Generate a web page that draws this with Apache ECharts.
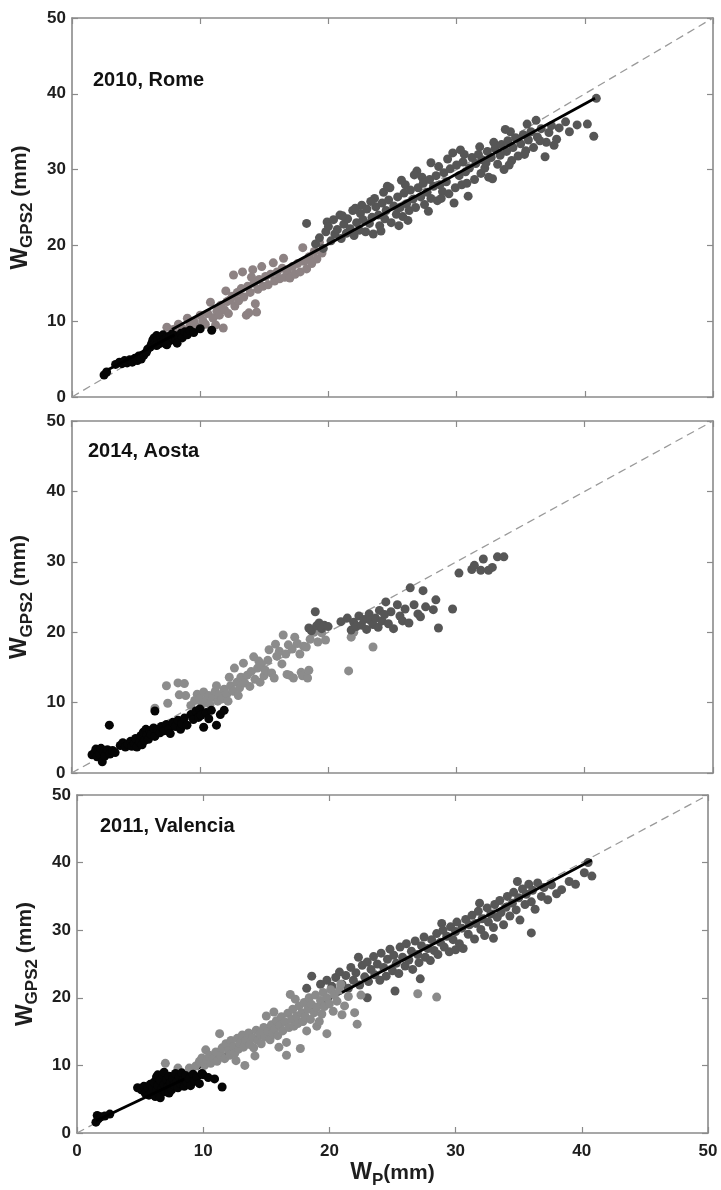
<!DOCTYPE html>
<html>
<head>
<meta charset="utf-8">
<script src="https://cdn.jsdelivr.net/npm/echarts@6/dist/echarts.min.js"></script>
<style>
  html, body { margin: 0; padding: 0; background: #fff; }
  #chart { width: 721px; height: 1190px; }
</style>
</head>
<body>
<div id="chart"></div>
<script>
// Precipitable water: GPS estimate (W_GPS2) against reference (W_P), three campaigns.

const axisTicks = [0, 10, 20, 30, 40, 50];
const identity = [[0, 0], [50, 50]];

const panelLabels = ['2010, Rome', '2014, Aosta', '2011, Valencia'];

// ---- 2010, Rome ----
const romeBlack = [
  [2.5,2.9],[2.7,3.3],[3.4,4.3],[3.7,4.6],[3.9,4.4],[4.1,4.8],[4.3,4.5],[4.5,4.9],[4.7,4.6],[4.9,5.1],
  [5.1,4.8],[5.2,5.4],[5.4,5.0],[5.6,5.5],[5.8,5.9],[5.9,6.3],[6.1,6.6],[6.2,7.0],[6.3,7.5],[6.4,7.8],
  [6.5,7.2],[6.6,8.1],[6.7,7.6],[6.8,7.0],[6.9,7.9],[7.0,7.3],[7.1,8.2],[7.2,7.6],[7.3,7.0],[7.4,7.9],
  [7.5,7.3],[7.6,8.0],[7.7,7.5],[7.8,8.3],[7.9,7.7],[8.0,8.1],[8.1,7.4],[8.3,7.9],[8.5,8.4],[8.6,7.8],
  [8.8,8.6],[9.0,8.2],[9.2,8.8],[9.5,8.5],[10.0,9.0],[10.9,8.8],[6.6,6.8],[7.4,6.9],[8.2,7.1]
];
const romeMid = [
  [7.4,9.2],[7.9,8.9],[8.3,9.6],[8.6,9.0],[9.0,10.4],[9.2,9.4],[9.5,10.0],[9.8,9.2],[10.0,10.8],[10.2,10.1],
  [10.4,9.6],[10.6,11.0],[10.8,12.5],[11.0,10.4],[11.2,9.5],[11.3,11.3],[11.5,10.8],[11.6,12.1],[11.8,9.1],[11.9,11.5],
  [12.1,12.6],[12.2,11.0],[12.3,12.8],[12.5,13.3],[12.6,16.1],[12.7,12.0],[12.9,13.8],[13.0,12.7],[13.2,14.3],[13.3,16.5],
  [13.4,13.2],[13.6,10.8],[13.7,14.6],[13.8,11.1],[13.9,13.8],[14.1,16.8],[14.2,15.0],[14.3,12.3],[14.4,11.2],[14.5,14.2],
  [14.6,15.5],[14.8,17.2],[14.9,14.6],[15.1,15.9],[15.3,14.8],[15.5,16.2],[15.7,17.7],[15.8,15.3],[16.0,16.5],[16.2,15.6],
  [16.4,17.0],[16.6,15.8],[16.8,16.6],[17.0,15.7],[17.2,17.2],[17.4,16.2],[17.6,17.6],[17.8,16.5],[18.0,19.7],[18.1,17.9],
  [18.3,16.9],[18.5,18.5],[18.7,17.6],[18.9,19.2],[19.1,18.2],[19.3,20.4],[19.5,19.0],[12.0,14.0],[14.0,15.8],[16.5,18.3]
];
const romeDark = [
  [18.3,22.9],[19.0,20.2],[19.3,21.0],[19.6,19.6],[19.8,21.8],[19.9,23.1],[20.0,22.5],[20.2,20.6],[20.4,23.4],[20.5,21.5],
  [20.7,22.1],[20.9,24.0],[21.0,20.9],[21.2,22.8],[21.4,21.6],[21.5,23.5],[21.7,22.2],[21.9,24.6],[22.0,21.3],[22.2,23.0],
  [22.4,22.0],[22.5,24.2],[22.6,25.3],[22.7,23.4],[22.9,21.8],[23.0,24.8],[23.2,22.9],[23.4,23.7],[23.5,21.5],[23.6,26.2],
  [23.7,25.1],[23.9,24.0],[24.0,22.6],[24.2,25.6],[24.3,27.0],[24.4,23.5],[24.5,24.6],[24.7,26.0],[24.8,27.6],[24.9,23.0],
  [25.1,25.2],[25.3,24.1],[25.4,26.4],[25.5,22.6],[25.6,25.0],[25.8,23.8],[25.9,26.9],[26.0,28.0],[26.1,25.5],[26.3,24.6],
  [26.4,27.3],[26.6,26.1],[26.8,25.0],[26.9,29.8],[27.0,27.6],[27.2,26.4],[27.3,29.0],[27.4,28.2],[27.5,25.4],[27.7,27.0],
  [27.8,24.5],[27.9,28.7],[28.0,26.2],[28.2,27.8],[28.4,29.2],[28.5,25.9],[28.6,30.4],[28.7,28.0],[28.9,27.1],[29.0,29.6],
  [29.2,28.4],[29.4,26.8],[29.5,30.1],[29.7,32.2],[29.8,25.6],[29.9,27.6],[30.0,30.6],[30.2,29.2],[30.4,28.0],[30.5,31.0],
  [30.6,32.0],[30.7,29.7],[30.9,26.5],[31.0,30.2],[31.2,31.6],[31.4,28.7],[31.5,30.8],[31.7,32.0],[31.8,33.0],[31.9,29.5],
  [32.0,31.3],[32.2,30.2],[32.4,32.4],[32.5,29.0],[32.7,31.6],[32.8,28.8],[32.9,33.6],[33.0,32.8],[33.2,30.7],[33.4,31.9],
  [33.5,33.3],[33.7,30.0],[33.9,32.4],[34.0,33.8],[34.2,35.0],[34.3,31.2],[34.4,32.9],[34.6,34.2],[34.8,31.8],[35.0,33.4],
  [35.2,34.6],[35.4,32.5],[35.5,36.0],[35.6,33.9],[35.8,35.0],[36.0,32.9],[36.2,36.5],[36.3,34.3],[36.6,35.4],[36.9,31.7],
  [37.0,33.6],[37.2,34.9],[37.4,35.8],[37.8,34.0],[38.0,35.5],[38.5,36.3],[38.8,35.0],[39.4,35.9],[40.2,36.0],[40.7,34.4],
  [40.9,39.4],[21.1,23.9],[22.1,24.9],[23.3,25.8],[24.6,27.8],[25.7,28.6],[26.7,29.3],[28.0,30.9],[29.3,31.4],[30.3,32.6],
  [24.1,21.9],[26.2,23.3],[28.8,26.2],[30.8,28.2],[32.3,30.9],[34.1,30.6],[35.3,32.0],[36.5,33.8],[37.6,33.2],[33.8,35.3]
];
const romeFitLow = [[2.8,3.6],[8.0,8.2]];
const romeFitHigh = [[7.8,8.9],[40.8,39.4]];

// ---- 2014, Aosta ----
const aostaBlack = [
  [1.6,2.6],[1.8,2.9],[1.9,3.4],[2.0,2.3],[2.1,3.1],[2.2,2.7],[2.3,3.5],[2.4,1.6],[2.5,3.0],[2.6,2.4],
  [2.8,3.3],[2.95,6.8],[3.0,2.7],[3.2,3.2],[3.4,2.9],[3.8,3.9],[4.0,4.3],[4.2,3.7],[4.4,4.1],[4.6,4.5],
  [4.7,3.8],[4.9,4.2],[5.0,4.9],[5.1,3.7],[5.3,4.4],[5.4,5.3],[5.5,4.0],[5.6,5.8],[5.7,4.6],[5.8,6.2],
  [5.9,5.4],[6.0,4.8],[6.1,6.0],[6.2,5.5],[6.4,6.4],[6.5,5.2],[6.5,8.8],[6.7,6.1],[6.9,5.7],[7.0,6.6],
  [7.2,6.0],[7.4,6.9],[7.6,6.3],[7.7,5.6],[7.9,7.2],[8.1,6.6],[8.3,7.5],[8.5,6.2],[8.6,7.0],[8.8,7.8],
  [9.0,6.8],[9.3,8.3],[9.5,7.6],[9.7,8.8],[9.9,7.9],[10.0,9.1],[10.1,8.2],[10.3,6.5],[10.5,8.6],[10.7,7.7],
  [10.9,8.9],[11.3,6.8],[11.6,8.3],[11.9,8.9]
];
const aostaGray = [
  [6.5,9.2],[7.4,12.4],[7.5,9.9],[8.3,12.8],[8.4,11.1],[8.8,12.7],[8.9,11.0],[9.3,9.6],[9.6,10.3],[9.8,11.2],
  [10.0,10.6],[10.2,9.8],[10.3,11.5],[10.5,10.4],[10.7,11.0],[10.8,9.7],[11.0,10.8],[11.2,11.6],[11.3,12.4],[11.4,10.2],
  [11.5,11.1],[11.7,10.5],[11.9,11.9],[12.1,11.2],[12.2,10.2],[12.3,13.6],[12.4,12.4],[12.6,11.6],[12.7,14.9],[12.9,12.9],
  [13.0,11.0],[13.1,12.1],[13.2,13.6],[13.4,15.6],[13.5,12.8],[13.7,13.9],[13.9,12.3],[14.0,14.4],[14.2,16.5],[14.3,13.3],
  [14.5,14.9],[14.6,15.9],[14.7,12.9],[14.8,15.4],[15.0,13.8],[15.1,14.6],[15.3,16.0],[15.4,17.5],[15.6,14.2],[15.8,13.5],
  [15.9,18.3],[16.0,16.6],[16.2,17.3],[16.4,15.5],[16.5,19.6],[16.7,16.9],[16.8,14.0],[16.9,18.2],[17.0,13.9],[17.2,17.6],
  [17.3,13.5],[17.4,19.3],[17.6,18.4],[17.8,16.9],[17.9,14.3],[18.0,13.8],[18.1,18.0],[18.3,17.9],[18.4,13.5],[18.5,14.6],
  [18.6,19.0],[18.9,20.0],[19.2,18.6],[19.5,19.9],[19.8,18.9],[21.6,14.5],[21.8,19.3],[22.0,20.0],[23.5,17.9]
];
const aostaDark = [
  [18.5,20.6],[18.7,20.2],[19.0,22.9],[19.1,20.9],[19.3,21.3],[19.5,20.5],[19.7,21.0],[20.0,20.8],[21.0,21.5],[21.5,22.0],
  [21.8,20.3],[22.0,21.4],[22.2,20.8],[22.4,22.3],[22.6,21.0],[22.8,21.8],[23.0,20.4],[23.2,22.6],[23.3,21.7],[23.5,21.1],
  [23.7,22.0],[23.9,20.7],[24.0,23.1],[24.2,21.6],[24.4,22.5],[24.5,24.3],[24.7,21.2],[24.9,22.9],[25.1,20.5],[25.4,23.9],
  [25.6,22.3],[25.8,21.6],[26.0,23.3],[26.3,21.3],[26.4,26.3],[26.7,23.9],[27.0,22.6],[27.2,22.2],[27.4,25.9],[27.6,23.6],
  [28.2,23.2],[28.4,24.6],[28.6,20.6],[29.7,23.3],[30.2,28.4],[31.2,28.9],[31.4,29.5],[31.9,28.8],[32.1,30.4],[32.5,28.8],
  [32.8,29.2],[33.2,30.7],[33.7,30.7]
];

// ---- 2011, Valencia ----
const valBlack = [
  [1.5,1.6],[1.6,2.6],[1.7,2.1],[1.9,2.4],[2.2,2.5],[2.6,2.8],[4.8,6.7],[5.1,6.4],[5.3,6.9],[5.4,5.9],
  [5.5,6.2],[5.6,6.8],[5.7,5.6],[5.8,7.2],[5.9,6.0],[6.0,6.6],[6.1,7.5],[6.2,5.4],[6.3,8.3],[6.3,6.3],
  [6.4,7.0],[6.4,8.6],[6.5,5.8],[6.6,7.8],[6.6,5.2],[6.7,6.5],[6.8,8.6],[6.9,7.2],[6.9,9.0],[7.0,6.1],
  [7.1,7.9],[7.2,6.8],[7.3,8.4],[7.3,5.9],[7.4,7.4],[7.5,6.4],[7.6,8.0],[7.7,7.1],[7.8,8.8],[7.9,7.6],
  [8.0,6.7],[8.1,8.3],[8.2,7.3],[8.3,8.9],[8.4,7.8],[8.5,6.9],[8.6,8.5],[8.7,7.5],[8.9,8.1],[9.0,7.0],
  [9.2,8.7],[9.3,7.7],[9.5,8.3],[9.7,7.3],[9.9,8.8],[10.0,8.6],[10.4,8.2],[10.9,8.0],[11.5,6.8]
];
const valGray = [
  [7.0,10.3],[8.0,9.6],[8.9,9.6],[9.4,9.9],[9.7,10.6],[9.9,11.1],[10.1,10.0],[10.2,12.3],[10.3,10.8],[10.5,11.5],
  [10.6,10.3],[10.8,11.0],[11.0,12.0],[11.1,10.6],[11.3,14.7],[11.4,11.5],[11.5,12.6],[11.7,11.0],[11.8,13.2],[12.0,12.2],
  [12.1,11.5],[12.2,13.7],[12.4,12.8],[12.5,11.8],[12.6,10.7],[12.7,14.0],[12.8,12.4],[12.9,13.3],[13.1,14.5],[13.2,12.7],
  [13.3,10.0],[13.4,13.7],[13.6,14.8],[13.7,13.1],[13.9,14.1],[14.0,12.6],[14.1,11.4],[14.2,15.2],[14.3,13.7],[14.5,14.6],
  [14.6,13.2],[14.8,15.6],[14.9,14.2],[15.0,17.3],[15.1,15.0],[15.3,13.8],[15.4,16.0],[15.5,14.7],[15.6,17.9],[15.7,15.5],
  [15.8,16.6],[15.9,14.4],[16.0,12.7],[16.1,15.9],[16.2,17.2],[16.3,15.1],[16.5,16.4],[16.6,11.5],[16.6,13.4],[16.7,17.7],
  [16.8,15.6],[16.9,20.5],[17.0,16.8],[17.1,18.3],[17.2,15.8],[17.3,19.8],[17.4,17.3],[17.5,16.2],[17.6,18.8],[17.7,12.5],
  [17.8,17.8],[17.9,16.5],[18.0,19.3],[18.1,17.2],[18.2,15.1],[18.3,18.3],[18.4,20.0],[18.5,16.8],[18.6,19.0],[18.8,17.8],
  [18.9,20.4],[19.0,18.6],[19.0,15.8],[19.2,16.5],[19.3,19.6],[19.4,17.6],[19.5,20.8],[19.6,18.7],[19.8,14.7],[19.8,20.0],
  [20.0,19.1],[20.1,21.2],[20.3,18.0],[20.4,20.4],[20.6,19.5],[20.8,21.1],[20.9,22.0],[21.0,17.5],[21.2,18.8],[21.5,20.2],
  [22.0,17.8],[22.2,16.1],[22.5,20.4],[27.0,20.6],[28.5,20.1]
];
const valDark = [
  [18.2,21.4],[18.6,23.2],[19.3,22.0],[19.8,22.6],[20.2,21.7],[20.5,23.0],[20.8,23.8],[21.0,22.0],[21.3,23.3],[21.5,21.4],
  [21.7,24.5],[21.9,22.6],[22.1,23.7],[22.3,26.0],[22.4,21.9],[22.6,24.8],[22.8,23.1],[23.0,25.3],[23.0,20.0],[23.1,22.4],
  [23.3,24.2],[23.5,26.1],[23.6,23.4],[23.8,25.0],[24.0,22.6],[24.1,26.6],[24.3,24.5],[24.5,23.2],[24.6,25.7],[24.8,27.2],
  [25.0,24.0],[25.1,26.3],[25.2,21.0],[25.3,25.1],[25.5,23.6],[25.6,27.5],[25.8,26.0],[26.0,24.7],[26.1,28.0],[26.3,25.6],
  [26.5,26.9],[26.6,24.2],[26.8,28.4],[27.0,26.4],[27.1,25.2],[27.2,22.8],[27.3,27.7],[27.5,29.0],[27.6,26.0],[27.8,27.3],
  [28.0,25.5],[28.1,28.6],[28.3,27.0],[28.5,29.5],[28.6,26.4],[28.8,28.2],[28.9,31.0],[29.0,30.0],[29.1,27.5],[29.3,29.1],
  [29.5,26.8],[29.6,30.5],[29.8,28.6],[30.0,29.8],[30.0,27.1],[30.1,31.2],[30.3,28.0],[30.5,30.3],[30.6,27.3],[30.8,31.6],
  [31.0,29.4],[31.1,30.8],[31.3,32.2],[31.5,28.7],[31.6,31.0],[31.8,32.8],[31.9,34.0],[32.0,30.1],[32.1,31.7],[32.3,29.2],
  [32.5,33.3],[32.6,31.2],[32.8,32.4],[33.0,30.4],[33.0,28.8],[33.1,33.8],[33.3,31.9],[33.5,34.4],[33.6,32.6],[33.8,30.8],
  [34.0,33.4],[34.1,35.0],[34.3,32.1],[34.5,34.0],[34.6,35.6],[34.8,33.0],[34.9,37.2],[35.0,34.8],[35.1,31.5],[35.3,36.1],
  [35.5,33.8],[35.6,35.3],[35.8,36.8],[36.0,34.2],[36.0,29.6],[36.1,35.9],[36.3,33.1],[36.5,37.0],[36.8,35.0],[37.0,36.3],
  [37.3,34.5],[37.6,36.7],[38.0,35.4],[38.4,36.0],[39.0,37.2],[39.5,36.8],[40.2,38.5],[40.5,40.0],[40.8,38.0]
];
const valFitLow = [[1.5,1.8],[8.5,8.0]];
const valFitMid = [[9.5,9.5],[21.0,20.8]];
const valFitHigh = [[21.0,20.8],[40.8,40.4]];

// ---- layout & styling ----
const grids = [
  { left: 72, top: 18, width: 641, height: 379 },
  { left: 70, top: 421, width: 643, height: 352 },
  { left: 77, top: 795, width: 631, height: 344 }
];
const labelPos = [[93, 70], [88, 441], [100, 816]];

const FRAME = '#8a8a8a';
const TXT = '#1e1e1e';
const FONT = 'Liberation Sans, Arial, sans-serif';

const tickLabel = { fontFamily: FONT, fontWeight: 'bold', fontSize: 17, color: TXT };

function frameAxis(gridIndex, extra) {
  return Object.assign({
    gridIndex, type: 'value', min: 0, max: 50, interval: 10,
    axisLine: { show: true, onZero: false, lineStyle: { color: FRAME, width: 1.6 } },
    axisTick: { show: true, inside: true, length: 6, lineStyle: { color: FRAME, width: 1.2 } },
    splitLine: { show: false },
    axisLabel: { show: false }
  }, extra);
}

const yName = '{a|W}{b|GPS2}{c| (mm)}';
const nameStyle = {
  rich: {
    a: { fontFamily: FONT, fontWeight: 'bold', fontSize: 23, color: TXT, lineHeight: 32, verticalAlign: 'middle' },
    b: { fontFamily: FONT, fontWeight: 'bold', fontSize: 17, color: TXT, lineHeight: 17, verticalAlign: 'bottom' },
    c: { fontFamily: FONT, fontWeight: 'bold', fontSize: 21, color: TXT, lineHeight: 32, verticalAlign: 'middle' }
  }
};
const yNameGap = [34, 36, 34];

const xAxes = [], yAxes = [], series = [];
grids.forEach((g, i) => {
  const bottom = frameAxis(i, { position: 'bottom' });
  if (i === 2) {
    bottom.axisLabel = Object.assign({ show: true, margin: 10 }, tickLabel);
    bottom.name = '{a|W}{b|P}{c|(mm)}';
    bottom.nameLocation = 'middle';
    bottom.nameGap = 24;
    bottom.nameTextStyle = nameStyle;
  }
  xAxes.push(bottom, frameAxis(i, { position: 'top' }));
  const left = frameAxis(i, {
    position: 'left',
    axisLabel: Object.assign({ show: true, margin: 6 }, tickLabel),
    name: yName, nameLocation: 'middle', nameRotate: 90, nameGap: yNameGap[i],
    nameTextStyle: nameStyle
  });
  yAxes.push(left, frameAxis(i, { position: 'right' }));
});

function dots(i, data, color, z) {
  return { type: 'scatter', xAxisIndex: 2 * i, yAxisIndex: 2 * i, data, symbol: 'circle', symbolSize: 9,
           itemStyle: { color, opacity: 1 }, z, silent: true };
}
function seg(i, data, lineStyle, z) {
  return { type: 'line', xAxisIndex: 2 * i, yAxisIndex: 2 * i, data, symbol: 'none', showSymbol: false,
           lineStyle, z, silent: true, clip: true };
}
const dashed = { color: '#9a9a9a', width: 1.3, type: [8, 5] };
const fit = { color: '#000', width: 2.8 };

// Rome
series.push(seg(0, identity, dashed, 1));
series.push(dots(0, romeMid, '#8d8283', 2));
series.push(dots(0, romeDark, '#565656', 3));
series.push(dots(0, romeBlack, '#050505', 4));
series.push(seg(0, romeFitLow, fit, 5));
series.push(seg(0, romeFitHigh, fit, 5));
// Aosta
series.push(seg(1, identity, dashed, 1));
series.push(dots(1, aostaGray, '#8c8c8c', 2));
series.push(dots(1, aostaDark, '#565656', 3));
series.push(dots(1, aostaBlack, '#050505', 4));
// Valencia
series.push(seg(2, identity, dashed, 1));
series.push(seg(2, valFitMid, fit, 1));
series.push(dots(2, valDark, '#575757', 2));
series.push(dots(2, valGray, '#8a8a8a', 3));
series.push(dots(2, valBlack, '#050505', 4));
series.push(seg(2, valFitLow, fit, 5));
series.push(seg(2, valFitHigh, fit, 5));

const graphic = panelLabels.map((t, i) => ({
  type: 'text', left: labelPos[i][0], top: labelPos[i][1], z: 10,
  style: { text: t, fontFamily: FONT, fontWeight: 'bold', fontSize: 20, fill: '#111' }
}));

const chart = echarts.init(document.getElementById('chart'), null, { renderer: 'canvas' });
chart.setOption({
  animation: false,
  backgroundColor: '#fff',
  grid: grids,
  xAxis: xAxes,
  yAxis: yAxes,
  series,
  graphic
});
</script>
</body>
</html>
